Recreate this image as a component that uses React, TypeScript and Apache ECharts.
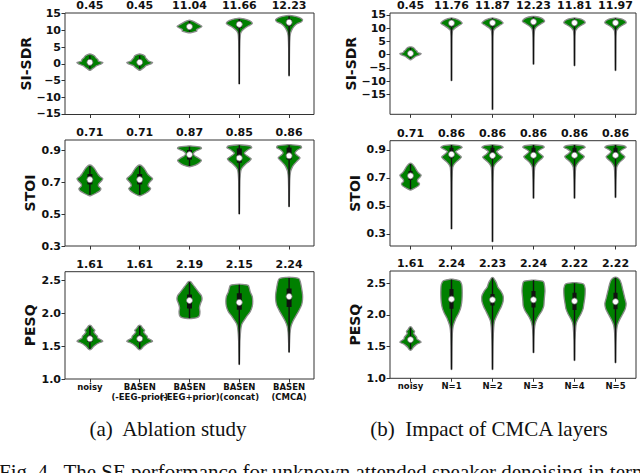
import React, { useEffect, useRef } from "react";
import * as echarts from "echarts";

// ---------- categories ----------
const categoriesA = ["noisy", "BASEN\n(-EEG-prior)", "BASEN\n(-EEG+prior)", "BASEN\n(concat)", "BASEN\n(CMCA)"];
const categoriesB = ["noisy", "N=1", "N=2", "N=3", "N=4", "N=5"];

// ---------- mean values shown above violins ----------
const sisdrMeansA = [0.45, 0.45, 11.04, 11.66, 12.23];
const stoiMeansA = [0.71, 0.71, 0.87, 0.85, 0.86];
const pesqMeansA = [1.61, 1.61, 2.19, 2.15, 2.24];
const sisdrMeansB = [0.45, 11.76, 11.87, 12.23, 11.81, 11.97];
const stoiMeansB = [0.71, 0.86, 0.86, 0.86, 0.86, 0.86];
const pesqMeansB = [1.61, 2.24, 2.23, 2.24, 2.22, 2.22];

// ---------- box stats: [low, q1, median, q3, high] ----------
const sisdrBoxA = [[-1.4, -0.4, 0.45, 1.2, 2.4], [-1.4, -0.4, 0.45, 1.2, 2.4], [9.6, 10.4, 11.1, 11.8, 12.8], [-6.0, 10.7, 11.8, 12.7, 13.4], [-3.6, 11.3, 12.4, 13.3, 14.2]];
const sisdrBoxB = [[-1.4, -0.4, 0.45, 1.2, 2.6], [-9.8, 10.4, 11.9, 12.8, 13.7], [-20.7, 10.5, 12.0, 12.9, 13.7], [-3.6, 11.2, 12.4, 13.4, 14.3], [-4.2, 10.8, 12.0, 12.9, 13.7], [-6.0, 10.9, 12.0, 12.9, 13.7]];
const stoiBoxA = [[0.62, 0.685, 0.715, 0.75, 0.8], [0.62, 0.685, 0.715, 0.75, 0.8], [0.8, 0.84, 0.871, 0.9, 0.92], [0.5, 0.82, 0.85, 0.91, 0.93], [0.546, 0.84, 0.864, 0.915, 0.93]];
const stoiBoxB = [[0.62, 0.685, 0.715, 0.75, 0.8], [0.336, 0.84, 0.869, 0.915, 0.935], [0.245, 0.835, 0.86, 0.915, 0.935], [0.555, 0.84, 0.862, 0.915, 0.935], [0.555, 0.84, 0.862, 0.915, 0.935], [0.56, 0.84, 0.862, 0.915, 0.935]];
const pesqBoxA = [[1.46, 1.56, 1.61, 1.66, 1.8], [1.46, 1.56, 1.61, 1.66, 1.8], [1.92, 2.07, 2.19, 2.28, 2.47], [1.22, 2.05, 2.16, 2.3, 2.43], [1.405, 2.09, 2.25, 2.37, 2.53]];
const pesqBoxB = [[1.46, 1.56, 1.61, 1.66, 1.8], [1.14, 2.1, 2.25, 2.41, 2.56], [1.14, 2.15, 2.24, 2.33, 2.58], [1.405, 2.12, 2.24, 2.38, 2.55], [1.28, 2.08, 2.22, 2.35, 2.5], [1.246, 2.09, 2.21, 2.35, 2.59]];

// ---------- violin density profiles: [value, half-width as share of category band] ----------
const sisdrViolinsA = [
  [[2.9, 0.02], [2.4, 0.09], [1.8, 0.12], [1.3, 0.16], [0.8, 0.17], [0.4, 0.26], [-0.1, 0.22], [-0.6, 0.13], [-1.1, 0.09], [-1.5, 0.05], [-1.9, 0.015]],
  [[2.9, 0.02], [2.4, 0.1], [1.8, 0.12], [1.3, 0.15], [0.8, 0.18], [0.4, 0.26], [-0.1, 0.21], [-0.6, 0.12], [-1.1, 0.09], [-1.5, 0.05], [-1.9, 0.015]],
  [[13.0, 0.02], [12.6, 0.09], [12.1, 0.15], [11.6, 0.21], [11.2, 0.25], [10.7, 0.2], [10.2, 0.14], [9.8, 0.15], [9.5, 0.08], [9.3, 0.02]],
  [[13.6, 0.03], [13.2, 0.15], [12.6, 0.24], [12.0, 0.26], [11.3, 0.18], [10.5, 0.1], [9.8, 0.05], [9.0, 0.025], [7.0, 0.014], [3.0, 0.008], [-2.0, 0.005], [-6.0, 0.003]],
  [[14.4, 0.05], [13.9, 0.2], [13.2, 0.27], [12.6, 0.25], [12.0, 0.16], [11.2, 0.1], [10.3, 0.06], [9.2, 0.03], [8.0, 0.018], [5.0, 0.01], [0, 0.006], [-3.6, 0.003]],
];
const sisdrViolinsB = [
  [[2.9, 0.02], [2.4, 0.09], [1.8, 0.12], [1.3, 0.16], [0.8, 0.17], [0.4, 0.26], [-0.1, 0.22], [-0.6, 0.13], [-1.1, 0.09], [-1.5, 0.05], [-1.9, 0.015]],
  [[13.8, 0.03], [13.3, 0.14], [12.6, 0.22], [11.8, 0.26], [11.0, 0.18], [10.2, 0.1], [9.5, 0.05], [9.0, 0.025], [7, 0.012], [3, 0.008], [-3, 0.005], [-9.8, 0.003]],
  [[13.8, 0.03], [13.3, 0.14], [12.6, 0.22], [11.9, 0.26], [11.1, 0.18], [10.3, 0.1], [9.6, 0.05], [9.0, 0.025], [7, 0.012], [2, 0.008], [-8, 0.005], [-20.7, 0.003]],
  [[14.4, 0.04], [13.9, 0.18], [13.2, 0.25], [12.5, 0.27], [11.8, 0.2], [11.0, 0.12], [10.2, 0.06], [9.4, 0.03], [7.5, 0.015], [3, 0.008], [-3.6, 0.003]],
  [[13.8, 0.04], [13.4, 0.16], [12.7, 0.24], [12.0, 0.26], [11.2, 0.18], [10.4, 0.1], [9.6, 0.05], [9.0, 0.025], [7, 0.012], [2, 0.008], [-4.2, 0.003]],
  [[13.8, 0.04], [13.4, 0.16], [12.7, 0.24], [12.0, 0.26], [11.2, 0.18], [10.4, 0.1], [9.6, 0.05], [9.0, 0.025], [7, 0.012], [1, 0.008], [-6, 0.003]],
];
const stoiViolinsA = [
  [[0.805, 0.02], [0.795, 0.06], [0.78, 0.1], [0.765, 0.13], [0.75, 0.16], [0.735, 0.2], [0.72, 0.26], [0.705, 0.23], [0.69, 0.18], [0.675, 0.17], [0.66, 0.22], [0.645, 0.2], [0.63, 0.12], [0.615, 0.02]],
  [[0.805, 0.02], [0.795, 0.06], [0.78, 0.1], [0.765, 0.13], [0.75, 0.16], [0.735, 0.21], [0.72, 0.26], [0.705, 0.22], [0.69, 0.18], [0.675, 0.17], [0.66, 0.22], [0.645, 0.19], [0.63, 0.12], [0.615, 0.02]],
  [[0.925, 0.03], [0.918, 0.22], [0.91, 0.24], [0.895, 0.14], [0.88, 0.08], [0.865, 0.1], [0.85, 0.18], [0.835, 0.24], [0.82, 0.2], [0.805, 0.12], [0.796, 0.02]],
  [[0.932, 0.03], [0.925, 0.22], [0.915, 0.25], [0.9, 0.17], [0.88, 0.1], [0.865, 0.15], [0.845, 0.24], [0.83, 0.2], [0.81, 0.12], [0.79, 0.06], [0.77, 0.03], [0.72, 0.015], [0.6, 0.008], [0.5, 0.003]],
  [[0.933, 0.03], [0.926, 0.23], [0.915, 0.25], [0.9, 0.17], [0.882, 0.12], [0.865, 0.17], [0.85, 0.22], [0.83, 0.16], [0.81, 0.1], [0.79, 0.06], [0.765, 0.03], [0.72, 0.015], [0.63, 0.008], [0.546, 0.003]],
];
const stoiViolinsB = [
  [[0.805, 0.02], [0.795, 0.06], [0.78, 0.1], [0.765, 0.13], [0.75, 0.16], [0.735, 0.2], [0.72, 0.26], [0.705, 0.23], [0.69, 0.18], [0.675, 0.17], [0.66, 0.22], [0.645, 0.2], [0.63, 0.12], [0.615, 0.02]],
  [[0.936, 0.03], [0.928, 0.22], [0.918, 0.26], [0.905, 0.18], [0.888, 0.1], [0.87, 0.16], [0.85, 0.24], [0.835, 0.2], [0.815, 0.12], [0.795, 0.06], [0.775, 0.03], [0.7, 0.015], [0.55, 0.008], [0.336, 0.003]],
  [[0.936, 0.03], [0.928, 0.22], [0.918, 0.26], [0.905, 0.17], [0.888, 0.1], [0.87, 0.15], [0.85, 0.24], [0.835, 0.2], [0.815, 0.12], [0.795, 0.06], [0.775, 0.03], [0.7, 0.015], [0.5, 0.008], [0.245, 0.003]],
  [[0.936, 0.03], [0.928, 0.24], [0.918, 0.26], [0.905, 0.18], [0.888, 0.11], [0.87, 0.17], [0.852, 0.24], [0.835, 0.19], [0.815, 0.11], [0.795, 0.06], [0.775, 0.03], [0.7, 0.014], [0.62, 0.007], [0.555, 0.003]],
  [[0.936, 0.03], [0.928, 0.23], [0.918, 0.26], [0.905, 0.17], [0.888, 0.1], [0.87, 0.17], [0.852, 0.24], [0.835, 0.19], [0.815, 0.11], [0.795, 0.06], [0.775, 0.03], [0.7, 0.014], [0.62, 0.007], [0.555, 0.003]],
  [[0.936, 0.03], [0.928, 0.23], [0.918, 0.26], [0.905, 0.18], [0.888, 0.11], [0.87, 0.16], [0.852, 0.23], [0.835, 0.19], [0.815, 0.11], [0.795, 0.06], [0.775, 0.03], [0.7, 0.014], [0.62, 0.007], [0.56, 0.003]],
];
const pesqViolinsA = [
  [[1.81, 0.02], [1.77, 0.06], [1.74, 0.1], [1.71, 0.08], [1.68, 0.11], [1.65, 0.15], [1.62, 0.16], [1.595, 0.22], [1.57, 0.26], [1.545, 0.18], [1.52, 0.12], [1.49, 0.07], [1.46, 0.04], [1.445, 0.01]],
  [[1.81, 0.02], [1.77, 0.06], [1.74, 0.1], [1.71, 0.08], [1.68, 0.11], [1.65, 0.15], [1.62, 0.16], [1.595, 0.22], [1.57, 0.26], [1.545, 0.18], [1.52, 0.12], [1.49, 0.07], [1.46, 0.04], [1.445, 0.01]],
  [[2.475, 0.02], [2.43, 0.07], [2.38, 0.12], [2.32, 0.18], [2.26, 0.24], [2.2, 0.25], [2.14, 0.22], [2.08, 0.2], [2.02, 0.21], [1.96, 0.2], [1.93, 0.15], [1.915, 0.02]],
  [[2.435, 0.05], [2.42, 0.18], [2.38, 0.2], [2.32, 0.22], [2.25, 0.26], [2.18, 0.27], [2.1, 0.26], [2.02, 0.22], [1.95, 0.15], [1.88, 0.09], [1.83, 0.05], [1.75, 0.03], [1.6, 0.015], [1.4, 0.008], [1.22, 0.003]],
  [[2.54, 0.05], [2.52, 0.2], [2.46, 0.23], [2.38, 0.25], [2.28, 0.27], [2.2, 0.27], [2.12, 0.25], [2.04, 0.2], [1.96, 0.14], [1.88, 0.08], [1.8, 0.04], [1.7, 0.02], [1.55, 0.01], [1.405, 0.003]],
];
const pesqViolinsB = [
  [[1.81, 0.02], [1.77, 0.06], [1.74, 0.1], [1.71, 0.08], [1.68, 0.11], [1.65, 0.15], [1.62, 0.16], [1.595, 0.22], [1.57, 0.26], [1.545, 0.18], [1.52, 0.12], [1.49, 0.07], [1.46, 0.04], [1.445, 0.01]],
  [[2.565, 0.04], [2.54, 0.2], [2.48, 0.25], [2.4, 0.26], [2.3, 0.26], [2.2, 0.25], [2.1, 0.22], [2.02, 0.17], [1.95, 0.11], [1.88, 0.07], [1.82, 0.04], [1.7, 0.02], [1.5, 0.012], [1.3, 0.008], [1.14, 0.003]],
  [[2.59, 0.02], [2.55, 0.06], [2.5, 0.1], [2.44, 0.13], [2.38, 0.2], [2.3, 0.26], [2.22, 0.26], [2.14, 0.22], [2.06, 0.16], [1.98, 0.1], [1.9, 0.05], [1.8, 0.03], [1.6, 0.015], [1.35, 0.008], [1.14, 0.003]],
  [[2.55, 0.05], [2.53, 0.24], [2.46, 0.27], [2.38, 0.28], [2.3, 0.27], [2.22, 0.26], [2.14, 0.25], [2.06, 0.2], [1.98, 0.12], [1.9, 0.06], [1.82, 0.03], [1.7, 0.015], [1.55, 0.008], [1.405, 0.003]],
  [[2.51, 0.05], [2.49, 0.22], [2.42, 0.26], [2.34, 0.26], [2.26, 0.25], [2.18, 0.23], [2.1, 0.21], [2.02, 0.16], [1.95, 0.1], [1.88, 0.05], [1.8, 0.03], [1.6, 0.012], [1.4, 0.007], [1.28, 0.003]],
  [[2.595, 0.03], [2.56, 0.1], [2.5, 0.14], [2.42, 0.17], [2.34, 0.2], [2.26, 0.23], [2.18, 0.26], [2.1, 0.24], [2.02, 0.18], [1.95, 0.12], [1.88, 0.07], [1.82, 0.04], [1.7, 0.02], [1.5, 0.01], [1.246, 0.003]],
];

// ---------- y-axis tick labels ----------
const sisdrTicks = [-15, -10, -5, 0, 5, 10, 15];
const stoiTicks = [0.3, 0.5, 0.7, 0.9];
const pesqTicks = [1.0, 1.5, 2.0, 2.5];

const FONT = "DejaVu Sans";

function makeRenderer(profiles: number[][][], boxes: number[][]) {
  return (params: any, api: any) => {
    const i = api.value(0);
    const prof = profiles[i];
    const band = api.size([1, 0])[0];
    const right: number[][] = [];
    const left: number[][] = [];
    for (const [v, w] of prof) {
      const p = api.coord([i, v]);
      right.push([p[0] + w * band, p[1]]);
      left.push([p[0] - w * band, p[1]]);
    }
    const pts = right.concat(left.reverse());
    const [lo, q1, med, q3, hi] = boxes[i];
    const c = api.coord([i, med]);
    const pLo = api.coord([i, lo]);
    const pHi = api.coord([i, hi]);
    const pQ1 = api.coord([i, q1]);
    const pQ3 = api.coord([i, q3]);
    const bw = band * 0.1;
    return {
      type: "group",
      children: [
        { type: "polygon", shape: { points: pts, smooth: 0.25 }, style: { fill: "#008000", stroke: "#8c8c8c", lineWidth: 1.3 } },
        { type: "line", shape: { x1: c[0], y1: pLo[1], x2: c[0], y2: pHi[1] }, style: { stroke: "#111", lineWidth: 1.4 } },
        { type: "rect", shape: { x: c[0] - bw / 2, y: pQ3[1], width: bw, height: pQ1[1] - pQ3[1] }, style: { fill: "#111" } },
        { type: "circle", shape: { cx: c[0], cy: c[1], r: 3 }, style: { fill: "#fff", stroke: "#777", lineWidth: 0.8 } },
      ],
    };
  };
}

type Panel = {
  grid: { left: number; top: number; width: number; height: number };
  cats: string[];
  means: number[];
  boxes: number[][];
  profiles: number[][][];
  min: number;
  max: number;
  ticks: number[];
  name: string;
  fmt: (v: number) => string;
  showCats: boolean;
};

const fmtSdr = (v: number) => (v < 0 ? "\u2212" : "") + Math.abs(Math.round(v));
const fmt1 = (v: number) => v.toFixed(1);

const panels: Panel[] = [
  { grid: { left: 65, top: 8, width: 249, height: 106.5 }, cats: categoriesA, means: sisdrMeansA, boxes: sisdrBoxA, profiles: sisdrViolinsA, min: -15.15, max: 15.2, ticks: sisdrTicks, name: "SI-SDR", fmt: fmtSdr, showCats: false },
  { grid: { left: 65, top: 140, width: 249, height: 106 }, cats: categoriesA, means: stoiMeansA, boxes: stoiBoxA, profiles: stoiViolinsA, min: 0.3, max: 0.9625, ticks: stoiTicks, name: "STOI", fmt: fmt1, showCats: false },
  { grid: { left: 65, top: 271.7, width: 249, height: 107.3 }, cats: categoriesA, means: pesqMeansA, boxes: pesqBoxA, profiles: pesqViolinsA, min: 1.0, max: 2.626, ticks: pesqTicks, name: "PESQ", fmt: fmt1, showCats: true },
  { grid: { left: 390, top: 8, width: 246, height: 106.3 }, cats: categoriesB, means: sisdrMeansB, boxes: sisdrBoxB, profiles: sisdrViolinsB, min: -22.5, max: 15.72, ticks: sisdrTicks, name: "SI-SDR", fmt: fmtSdr, showCats: false },
  { grid: { left: 390, top: 140.7, width: 246, height: 105.3 }, cats: categoriesB, means: stoiMeansB, boxes: stoiBoxB, profiles: stoiViolinsB, min: 0.214, max: 0.966, ticks: stoiTicks, name: "STOI", fmt: fmt1, showCats: false },
  { grid: { left: 390, top: 271, width: 246, height: 107.3 }, cats: categoriesB, means: pesqMeansB, boxes: pesqBoxB, profiles: pesqViolinsB, min: 1.0, max: 2.695, ticks: pesqTicks, name: "PESQ", fmt: fmt1, showCats: true },
];

export default function App() {
  const ref = useRef<HTMLDivElement>(null);
  useEffect(() => {
    if (!ref.current) return;
    const chart = echarts.init(ref.current, undefined, { renderer: "svg" });
    const grid: any[] = [];
    const xAxis: any[] = [];
    const yAxis: any[] = [];
    const series: any[] = [];
    panels.forEach((p, g) => {
      grid.push({ ...p.grid, show: true, borderColor: "#333", borderWidth: 1, backgroundColor: "transparent", containLabel: false });
      xAxis.push({
        type: "category",
        gridIndex: g,
        data: p.cats,
        position: "bottom",
        axisLine: { show: false, onZero: false },
        axisTick: { show: true, alignWithLabel: true, length: 3.5, lineStyle: { color: "#333" } },
        axisLabel: { show: p.showCats, fontFamily: FONT, fontSize: 8.5, fontWeight: "bold", color: "#111", margin: 3, lineHeight: 10, interval: 0 },
        splitLine: { show: false },
      });
      xAxis.push({
        type: "category",
        gridIndex: g,
        data: p.means.map((m) => m.toFixed(2)),
        position: "top",
        axisLine: { show: false, onZero: false },
        axisTick: { show: false },
        axisLabel: { show: true, fontFamily: FONT, fontSize: 11, fontWeight: "bold", color: "#111", margin: 2, interval: 0 },
        splitLine: { show: false },
      });
      yAxis.push({
        type: "value",
        gridIndex: g,
        min: p.min,
        max: p.max,
        name: p.name,
        nameLocation: "middle",
        nameGap: 28,
        nameTextStyle: { fontFamily: FONT, fontSize: 14, fontWeight: "bold", color: "#111" },
        axisLine: { show: false, onZero: false },
        axisTick: { show: true, length: 3.5, customValues: p.ticks, lineStyle: { color: "#333" } },
        axisLabel: { show: true, customValues: p.ticks, formatter: p.fmt, fontFamily: FONT, fontSize: 11, fontWeight: "bold", color: "#111", margin: 4 },
        splitLine: { show: false },
      });
      series.push({
        type: "custom",
        xAxisIndex: g * 2,
        yAxisIndex: g,
        renderItem: makeRenderer(p.profiles, p.boxes),
        data: p.cats.map((_, i) => [i, p.boxes[i][2]]),
        encode: { x: 0, y: 1 },
        clip: true,
      });
    });
    chart.setOption({
      animation: false,
      backgroundColor: "#fff",
      grid,
      xAxis,
      yAxis,
      series,
      graphic: [
        { type: "text", x: 168, y: 429, style: { text: "(a)  Ablation study", fontFamily: "Liberation Serif", fontSize: 21, fill: "#111", align: "center", verticalAlign: "middle" } },
        { type: "text", x: 489, y: 429, style: { text: "(b)  Impact of CMCA layers", fontFamily: "Liberation Serif", fontSize: 21, fill: "#111", align: "center", verticalAlign: "middle" } },
        { type: "text", x: -1, y: 461, style: { text: "Fig. 4.  The SE performance for unknown attended speaker denoising in terms", fontFamily: "Liberation Serif", fontSize: 21, fill: "#111", align: "left", verticalAlign: "top" } },
      ],
    });
    return () => chart.dispose();
  }, []);
  return (
    <div style={{ position: "absolute", left: 0, top: 0, width: 640, height: 473, overflow: "hidden", background: "#fff" }}>
      <div ref={ref} style={{ width: 640, height: 473 }} />
    </div>
  );
}
